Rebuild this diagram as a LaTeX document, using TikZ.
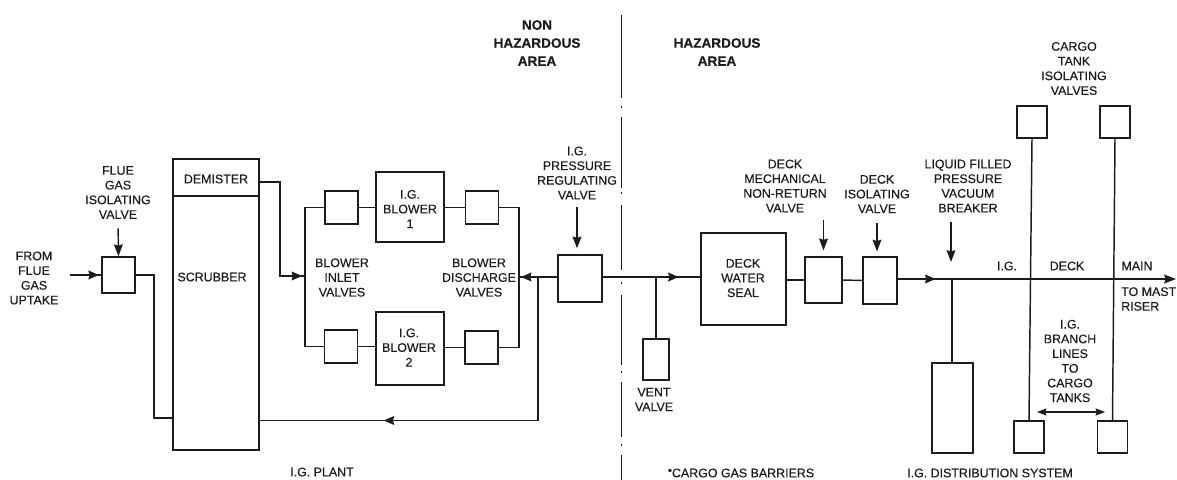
\documentclass[tikz,border=0pt]{standalone}
\usepackage{fontspec}
\setmainfont{Liberation Sans}
\newfontfamily\scanfont[FakeBold=0.35]{Liberation Sans}
\newfontfamily\scanbold[FakeBold=0.35]{Liberation Sans Bold}
\definecolor{inkblack}{RGB}{28,28,28}
\usetikzlibrary{arrows.meta, positioning, decorations.markings}

\begin{document}
\begin{tikzpicture}[
  x=0.03cm, y=-0.03cm,
  unitbox/.style={rectangle, draw=inkblack, line width=1.4pt, inner sep=0pt,
                  minimum width=#1},
  unitbox/.default=0.99cm,
  lbl/.style={text=inkblack, align=center, inner sep=0pt,
              font=\fontsize{10.6}{12.55}\scanfont},
  arealbl/.style={text=inkblack, align=center, inner sep=0pt,
                  font=\fontsize{11.6}{15.4}\scanbold},
  pipe/.style={draw=inkblack, line width=1.25pt},
  midflow/.style={pipe, postaction={decorate}, decoration={markings,
      mark=at position #1 with {\arrow[inkblack]{Stealth[length=9pt, width=7.5pt, inset=1pt]}}}},
  pointer/.style={draw=inkblack, line width=1.25pt, -{Stealth[length=10pt, width=7.5pt, inset=1pt]}},
  span/.style={draw=inkblack, line width=1.25pt,
      {Stealth[length=8pt, width=6pt, inset=1pt]}-{Stealth[length=8pt, width=6pt, inset=1pt]}}
]
\useasboundingbox (0,0) rectangle (1177,480);

% Area divider
\foreach \ya/\yb in {15/98, 106/108, 117/188, 192/194, 205/270, 282/284, 295/365, 371/373, 382/437, 444/446, 455/480}
  \draw[pipe] (621.5,\ya) -- (621.5,\yb);

% Area headings
\node[arealbl] (nonhaz) at (537,43) {NON\\HAZARDOUS\\AREA};
\node[arealbl] (haz) at (717,52) {HAZARDOUS\\AREA};

% I.G. plant
\node[unitbox, minimum height=1.08cm] (fluevalve) at (118.5,275) {};
\node[unitbox=2.58cm, minimum height=1.11cm] (demister) at (216,177.5) {};
\node[unitbox=2.58cm, minimum height=7.62cm] (scrubber) at (216,323) {};
\node[unitbox, minimum height=0.99cm] (inletone) at (341.5,207.5) {};
\node[unitbox, minimum height=0.99cm] (inlettwo) at (341,346.5) {};
\node[unitbox=2.04cm, minimum height=2.1cm] (blowerone) at (410,207) {};
\node[unitbox=2.04cm, minimum height=2.19cm] (blowertwo) at (410,348.5) {};
\node[unitbox, minimum height=0.99cm] (dischone) at (482,207.5) {};
\node[unitbox, minimum height=0.99cm] (dischtwo) at (481.5,347.5) {};
\node[unitbox=1.32cm, minimum height=1.41cm] (regvalve) at (580,278.5) {};

% Hazardous side
\node[unitbox=0.78cm, minimum height=1.23cm] (ventvalve) at (656,359.5) {};
\node[unitbox=2.55cm, minimum height=2.76cm] (waterseal) at (743.5,279) {};
\node[unitbox=1.11cm, minimum height=1.38cm] (mechvalve) at (823.5,280) {};
\node[unitbox=1.02cm, minimum height=1.41cm] (isovalve) at (880,280.5) {};
\node[unitbox=1.23cm, minimum height=2.7cm] (breaker) at (952.5,408) {};
\node[unitbox=0.9cm, minimum height=0.96cm] (tanktopone) at (1032,122) {};
\node[unitbox=0.9cm, minimum height=0.96cm] (tanktoptwo) at (1115,122) {};
\node[unitbox=0.9cm, minimum height=0.96cm] (tankbotone) at (1029,437) {};
\node[unitbox=0.9cm, minimum height=0.96cm] (tankbottwo) at (1112.5,437) {};

% Labels
\node[lbl] (fluelbl) at (118,192.5) {FLUE\\GAS\\ISOLATING\\VALVE};
\node[lbl] (fromlbl) at (34,278) {FROM\\FLUE\\GAS\\UPTAKE};
\node[lbl] (demlbl) at (216,179) {DEMISTER};
\node[lbl] (scrlbl) at (212,277) {SCRUBBER};
\node[lbl] (inletlbl) at (342,277.5) {BLOWER\\INLET\\VALVES};
\node[lbl] (blowonelbl) at (410,209) {I.G.\\BLOWER\\1};
\node[lbl] (blowtwolbl) at (409,347.5) {I.G.\\BLOWER\\2};
\node[lbl] (disclbl) at (479,277.5) {BLOWER\\DISCHARGE\\VALVES};
\node[lbl] (reglbl) at (577,173) {I.G.\\PRESSURE\\REGULATING\\VALVE};
\node[lbl] (seallbl) at (743,278) {DECK\\WATER\\SEAL};
\node[lbl] (ventlbl) at (654,399.5) {VENT\\VALVE};
\node[lbl] (mechlbl) at (785,186) {DECK\\MECHANICAL\\NON-RETURN\\VALVE};
\node[lbl] (isolbl) at (877,194) {DECK\\ISOLATING\\VALVE};
\node[lbl] (breaklbl) at (968,186) {LIQUID FILLED\\PRESSURE\\VACUUM\\BREAKER};
\node[lbl] (tanklbl) at (1074,68.5) {CARGO\\TANK\\ISOLATING\\VALVES};
\node[lbl] (mainone) at (1007,266) {I.G.};
\node[lbl] (maintwo) at (1067,266) {DECK};
\node[lbl] (mainthree) at (1137,266) {MAIN};
\node[lbl, anchor=west, align=left] (mastlbl) at (1121,299) {TO MAST\\RISER};
\node[lbl] (branchlbl) at (1070,361) {I.G.\\BRANCH\\LINES\\TO\\CARGO\\TANKS};
\node[lbl] (plantlbl) at (322,472) {I.G. PLANT};
\node[lbl] (barrierlbl) at (741,473) {\raisebox{2.5pt}{\fontsize{10}{10}\selectfont\textbullet}CARGO GAS BARRIERS};
\node[lbl] (distlbl) at (990,473) {I.G. DISTRIBUTION SYSTEM};

% Free ends of the pipes
\coordinate (uptake) at (70,275);
\coordinate (scrubin) at (173,418);
\coordinate (demout) at (259,182);
\coordinate (inletbus) at (305,276);
\coordinate (dischbus) at (519,277);
\coordinate (returntee) at (538,277);
\coordinate (scrubret) at (259,420.5);
\coordinate (venttee) at (656,277);
\coordinate (maintee) at (952,279);
\coordinate (mainend) at (1176,279);
\coordinate (breakhead) at (951,262);
\coordinate (spanleft) at (1037,412);
\coordinate (spanright) at (1105,412);

% Pipes, I.G. plant
\draw[midflow=0.93] (uptake) -- (fluevalve.west);
\draw[pipe] (fluevalve.east) -- ++(18,0) |- (scrubin);
\draw[midflow=0.98] (demout) -- ++(21,0) |- (inletbus);
\draw[pipe] (inletone.west) -| (inletbus);
\draw[pipe] (inlettwo.west) -| (inletbus);
\draw[pipe] (inletone.east) -- (blowerone.west |- inletone.east);
\draw[pipe] (inlettwo.east) -- (blowertwo.west |- inlettwo.east);
\draw[pipe] (blowerone.east |- dischone.west) -- (dischone.west);
\draw[pipe] (blowertwo.east |- dischtwo.west) -- (dischtwo.west);
\draw[pipe] (dischone.east) -| (dischbus);
\draw[pipe] (dischtwo.east) -| (dischbus);
\draw[midflow=0.95] (regvalve.west |- dischbus) -- (dischbus);
\draw[midflow=0.705] (returntee) |- (scrubret);

% Pipes, hazardous side
\draw[midflow=0.78] (regvalve.east |- venttee) -- (waterseal.west |- venttee);
\draw[pipe] (venttee) -- (ventvalve.north);
\draw[pipe] (waterseal.east |- mechvalve.west) -- (mechvalve.west);
\draw[pipe] (mechvalve.east) -- (isovalve.west);
\draw[midflow=0.136, -{Stealth[length=10pt, width=7.5pt, inset=1pt]}] (isovalve.east |- maintee) -- (mainend);
\draw[pipe] (maintee) -- (breaker.north -| maintee);
\draw[pipe] (tanktopone.south) -- (tankbotone.north);
\draw[pipe] (tanktoptwo.south) -- (tankbottwo.north);
\draw[span] (spanleft) -- (spanright);

% Pointers from the labels
\draw[pointer, shorten <=8pt] (fluelbl.south) -- (fluevalve.north);
\draw[pointer, shorten <=6pt, shorten >=5pt] (reglbl.south) -- (reglbl.south |- regvalve.north);
\draw[pointer, shorten <=6pt, shorten >=5pt] (mechvalve.north |- mechlbl.south) -- (mechvalve.north);
\draw[pointer, shorten <=8pt, shorten >=4pt] (isolbl.south) -- (isolbl.south |- isovalve.north);
\draw[pointer, shorten <=8pt] (breakhead |- breaklbl.south) -- (breakhead);
\end{tikzpicture}
\end{document}
